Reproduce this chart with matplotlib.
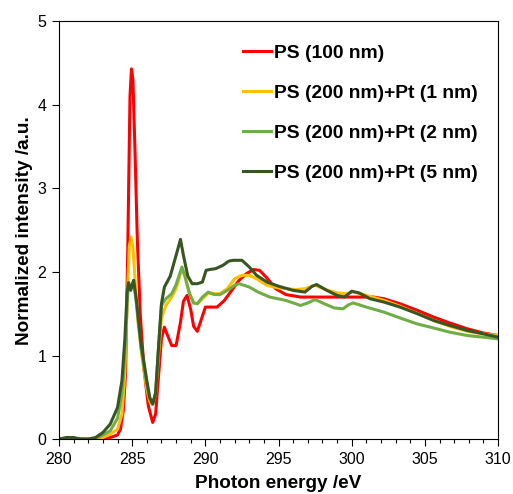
import matplotlib
matplotlib.use('Agg')
import matplotlib.pyplot as plt
from matplotlib.ticker import MultipleLocator

plt.rcParams['font.family'] = ['Liberation Sans', 'DejaVu Sans']

labels = ["PS (100 nm)", "PS (200 nm)+Pt (1 nm)", "PS (200 nm)+Pt (2 nm)", "PS (200 nm)+Pt (5 nm)"]
colors = ["#FF0000", "#FFC000", "#70AD47", "#375623"]

e_red = [280, 281, 282, 283, 283.5, 284, 284.2, 284.4, 284.55, 284.7, 284.85, 284.95, 285.05, 285.2,
         285.35, 285.55, 285.8, 286.1, 286.4, 286.6, 286.8, 287.0, 287.2, 287.4, 287.7, 288.0, 288.3,
         288.5, 288.75, 289.0, 289.2, 289.45, 289.7, 290.0, 290.3, 290.8, 291.3, 291.8, 292.3, 292.8,
         293.3, 293.7, 294.2, 294.8, 295.5, 296.5, 297.5, 298.5, 299.5, 300.5, 301.5, 302.2, 303.3,
         304.5, 305.6, 306.7, 307.9, 309, 310]
i_red = [0.0, 0.01, 0.0, 0.0, 0.02, 0.05, 0.12, 0.35, 0.8, 2.3, 4.1, 4.43, 4.3, 3.4,
         2.4, 1.5, 0.85, 0.4, 0.2, 0.3, 0.75, 1.2, 1.34, 1.25, 1.12, 1.12, 1.4,
         1.65, 1.72, 1.55, 1.35, 1.29, 1.42, 1.58, 1.58, 1.58, 1.66, 1.78, 1.9, 1.98,
         2.03, 2.02, 1.93, 1.8, 1.73, 1.70, 1.70, 1.70, 1.70, 1.70, 1.70, 1.68, 1.62,
         1.54, 1.46, 1.39, 1.32, 1.27, 1.24]

e_y = [280, 281, 282, 283, 283.5, 284, 284.3, 284.5, 284.65, 284.8, 284.92, 285.05, 285.2, 285.4,
       285.7, 286.0, 286.2, 286.4, 286.6, 286.8, 287.0, 287.3, 287.7, 288.0, 288.4, 288.6, 288.9,
       289.2, 289.45, 289.8, 290.2, 290.6, 291.0, 291.5, 292.0, 292.5, 293.0, 293.5, 294.2, 295.0,
       296.2, 296.8, 297.5, 298.2, 299.0, 299.6, 300.1, 300.8, 302.2, 303.3, 304.5, 305.6, 306.7,
       307.9, 309, 310]
i_y = [0.0, 0.0, 0.0, 0.02, 0.06, 0.12, 0.3, 0.8, 1.6, 2.3, 2.42, 2.3, 1.9, 1.4,
       0.95, 0.6, 0.45, 0.42, 0.55, 1.0, 1.45, 1.6, 1.7, 1.8, 2.04, 1.95, 1.75,
       1.63, 1.62, 1.68, 1.75, 1.74, 1.74, 1.8, 1.92, 1.96, 1.96, 1.92, 1.84, 1.81,
       1.79, 1.80, 1.84, 1.79, 1.75, 1.74, 1.76, 1.73, 1.66, 1.59, 1.50, 1.42, 1.35,
       1.29, 1.26, 1.24]

e_g = [280, 281, 282, 282.5, 283, 283.5, 284, 284.3, 284.5, 284.65, 284.75, 284.9, 285.1, 285.3,
       285.6, 286.0, 286.2, 286.4, 286.6, 286.8, 287.0, 287.3, 287.7, 288.0, 288.4, 288.6, 288.9,
       289.2, 289.45, 289.8, 290.2, 290.6, 291.0, 291.5, 292.0, 292.3, 293.0, 293.6, 294.4, 295.5,
       296.5, 297.0, 297.5, 298.0, 298.8, 299.4, 299.8, 300.1, 301.0, 302.2, 303.3, 304.45, 305.6,
       306.7, 307.9, 309, 310]
i_g = [0.0, 0.01, 0.0, 0.01, 0.05, 0.1, 0.25, 0.55, 1.0, 1.6, 1.88, 1.8, 1.9, 1.6,
       1.1, 0.65, 0.48, 0.42, 0.55, 1.1, 1.6, 1.68, 1.74, 1.85, 2.06, 1.95, 1.75,
       1.63, 1.62, 1.7, 1.76, 1.73, 1.73, 1.78, 1.84, 1.86, 1.82, 1.76, 1.70, 1.66,
       1.60, 1.63, 1.67, 1.63, 1.57, 1.56, 1.61, 1.63, 1.58, 1.52, 1.45, 1.38, 1.33,
       1.28, 1.24, 1.22, 1.20]

e_d = [280, 280.5, 281, 281.5, 282, 282.5, 283, 283.5, 284, 284.3, 284.5, 284.65, 284.75, 284.9,
       285.1, 285.3, 285.6, 286.0, 286.2, 286.4, 286.6, 286.8, 287.0, 287.2, 287.6, 288.0, 288.3,
       288.5, 288.8, 289.1, 289.45, 289.8, 290.05, 290.3, 290.7, 291.2, 291.6, 291.9, 292.5, 293.0,
       293.5, 294.2, 295.0, 296.0, 296.8, 297.3, 297.6, 298.3, 299.0, 299.5, 300.0, 300.5, 301.25,
       302.2, 303.3, 304.5, 305.6, 306.7, 307.9, 309, 310]
i_d = [0.0, 0.02, 0.02, 0.0, 0.0, 0.02, 0.08, 0.18, 0.38, 0.7, 1.2, 1.75, 1.87, 1.78,
       1.9, 1.65, 1.15, 0.7, 0.5, 0.42, 0.55, 1.1, 1.62, 1.82, 1.95, 2.2, 2.39,
       2.2, 1.95, 1.86, 1.86, 1.88, 2.02, 2.03, 2.04, 2.08, 2.13, 2.14, 2.14, 2.06,
       1.96, 1.88, 1.83, 1.78, 1.76, 1.83, 1.85, 1.78, 1.72, 1.70, 1.77, 1.75, 1.68,
       1.64, 1.58, 1.50, 1.42, 1.36, 1.30, 1.26, 1.22]

fig = plt.figure(figsize=(5.13, 4.94), dpi=100)
ax = fig.add_axes([0.115, 0.111, 0.856, 0.846])

series = [(e_red, i_red), (e_y, i_y), (e_g, i_g), (e_d, i_d)]
for (e, i), lab, c in zip(series, labels, colors):
    ax.plot(e, i, color=c, lw=2.2, label=lab, solid_joinstyle='round')

ax.set_xlim(280, 310)
ax.set_ylim(0, 5)
ax.xaxis.set_major_locator(MultipleLocator(5))
ax.xaxis.set_minor_locator(MultipleLocator(1))
ax.yaxis.set_major_locator(MultipleLocator(1))
ax.tick_params(axis='both', which='major', direction='out', length=5, width=0.8,
               labelsize=11.5, pad=4)
ax.tick_params(axis='x', which='minor', direction='out', length=3, width=0.8)
for s in ax.spines.values():
    s.set_linewidth(0.8)

ax.set_xlabel("Photon energy /eV", fontsize=13.7, fontweight='bold', labelpad=6)
ax.set_ylabel("Normalized intensity /a.u.", fontsize=13.7, fontweight='bold', labelpad=3)

lgd = ax.legend(loc='upper left', bbox_to_anchor=(0.398, 0.968), frameon=False,
                prop={'size': 13.9, 'weight': 'bold'}, handlelength=1.45, handletextpad=0.12,
                labelspacing=1.17, borderpad=0)

fig.savefig('out.png', dpi=100)
